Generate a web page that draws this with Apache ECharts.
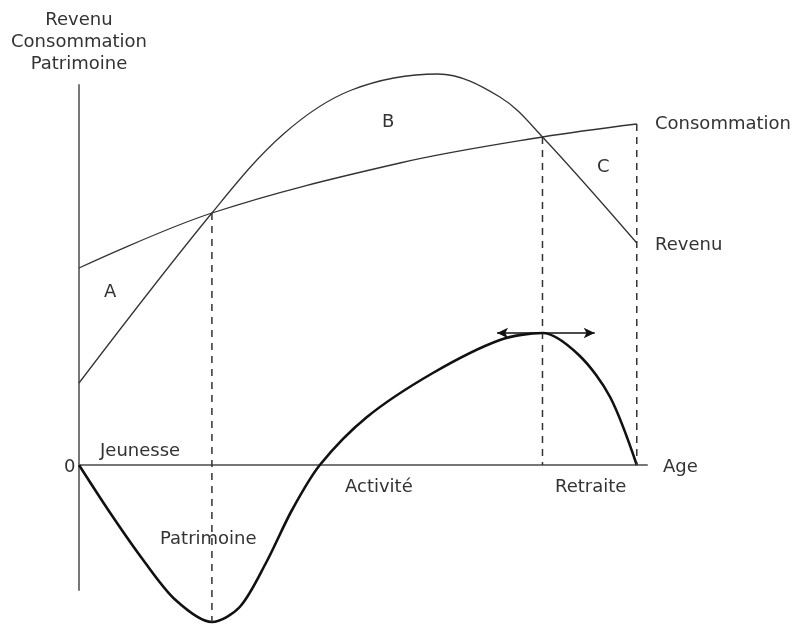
<!DOCTYPE html>
<html>
<head>
<meta charset="utf-8">
<script src="https://cdn.jsdelivr.net/npm/echarts@6/dist/echarts.min.js"></script>
<style>
  html, body { margin: 0; padding: 0; background: #fff; }
  #main { width: 795px; height: 628px; }
</style>
</head>
<body>
<div id="main"></div>
<script>
const revenuAge = [0, 23.4, 36, 48, 63.2, 74.1, 81.6, 98.2];
const revenuVal = [16.4, 50.4, 66.2, 75, 78.2, 73.6, 65.6, 44.4];

const consoAge = [0, 23.4, 56.5, 81.6, 98.2];
const consoVal = [39.4, 50.4, 60.4, 65.6, 68.2];

const patriAge = [0, 5.5, 11.3, 17, 23.4, 28.3, 33, 37.5, 42.4, 50.7, 62.3, 74.1, 81.6, 88, 93.5, 98.2];
const patriVal = [0, -9.6, -19, -27, -31.4, -28.4, -19.4, -9, 0, 9.6, 18.4, 25, 26.4, 22, 13.6, 0];

// pointillés verticaux
const guideAge = [23.4, 81.6, 98.2];
const guideTop = [50.4, 65.6, 68.2];
const guideBottom = [-31.4, 0, 0];

// flèches horizontales aux extrema du patrimoine
const arrowFrom = [14.8, 73.6];
const arrowTo = [32.7, 90.8];
const arrowVal = [-31.4, 26.4];

const zip = (xs, ys) => xs.map((x, i) => [x, ys[i]]);

const chart = echarts.init(document.getElementById('main'));
const font = '18px "DejaVu Sans", sans-serif';
const txt = (text, x, y, align) => ({
  type: 'text', x: x, y: y, silent: true,
  style: { text: text, font: font, fill: '#333', align: align || 'left', verticalAlign: 'middle' }
});

const series = [
  { name: 'Revenu', type: 'line', data: zip(revenuAge, revenuVal), smooth: 0.35, showSymbol: false, clip: false,
    lineStyle: { color: '#333', width: 1.3 } },
  { name: 'Consommation', type: 'line', data: zip(consoAge, consoVal), smooth: 0.35, showSymbol: false, clip: false,
    lineStyle: { color: '#333', width: 1.3 } },
  { name: 'Patrimoine', type: 'line', data: zip(patriAge, patriVal), smooth: 0.3, showSymbol: false, clip: false,
    lineStyle: { color: '#111', width: 2.6 } }
];

guideAge.forEach((a, i) => {
  series.push({
    type: 'line', data: [[a, guideTop[i]], [a, guideBottom[i]]], showSymbol: false, clip: false, silent: true,
    lineStyle: { color: '#333', width: 1.5, type: [7, 6] }
  });
});

series.push({
  type: 'line', data: [], clip: false, silent: true,
  markLine: {
    silent: true,
    symbol: ['arrow', 'arrow'],
    symbolSize: [8, 11],
    label: { show: false },
    lineStyle: { color: '#111', width: 1.5, type: 'solid' },
    data: arrowFrom.map((f, i) => [{ coord: [f, arrowVal[i]] }, { coord: [arrowTo[i], arrowVal[i]] }])
  }
});

const option = {
  animation: false,
  grid: { left: 79, right: 148, top: 85, bottom: 38 },
  xAxis: {
    type: 'value', min: 0, max: 100,
    axisLine: { show: true, onZero: true, lineStyle: { color: '#777', width: 2 } },
    axisTick: { show: false }, axisLabel: { show: false }, splitLine: { show: false }
  },
  yAxis: {
    type: 'value', min: -25, max: 76,
    axisLine: { show: true, lineStyle: { color: '#777', width: 2 } },
    axisTick: { show: false }, axisLabel: { show: false }, splitLine: { show: false }
  },
  graphic: [
    { type: 'text', x: 79, y: 9, silent: true,
      style: { text: 'Revenu\nConsommation\nPatrimoine', font: font, fill: '#333', align: 'center', verticalAlign: 'top', lineHeight: 22 } },
    txt('Consommation', 655, 124),
    txt('Revenu', 655, 245),
    txt('Age', 663, 467),
    txt('0', 64, 467),
    txt('A', 104, 292),
    txt('B', 382, 122),
    txt('C', 597, 167),
    txt('Jeunesse', 100, 451),
    txt('Activité', 345, 487),
    txt('Retraite', 555, 487),
    txt('Patrimoine', 160, 539)
  ],
  series: series
};
chart.setOption(option);
</script>
</body>
</html>
